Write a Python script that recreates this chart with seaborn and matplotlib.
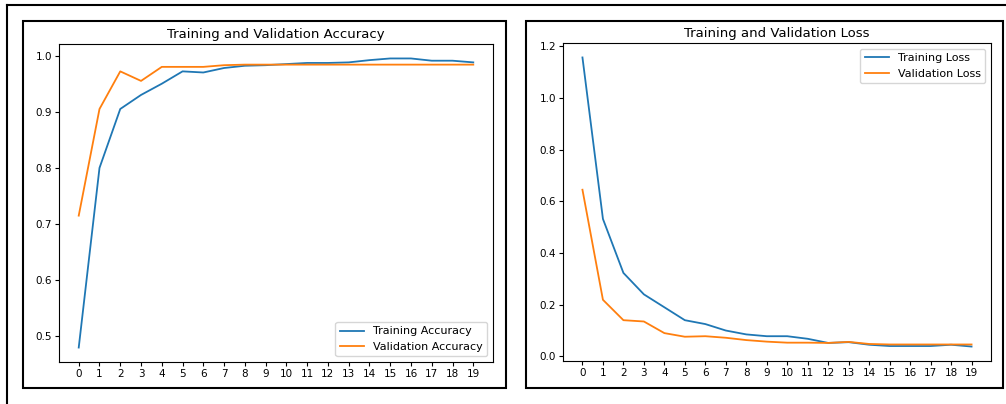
import matplotlib
matplotlib.use("Agg")
import matplotlib.pyplot as plt
import seaborn as sns
import pandas as pd
from matplotlib.patches import Rectangle
from matplotlib.lines import Line2D

# Valeurs
epochs = list(range(20))
train_acc = [0.48, 0.80, 0.905, 0.93, 0.95, 0.972, 0.970, 0.978, 0.982, 0.983,
             0.985, 0.987, 0.987, 0.988, 0.992, 0.995, 0.995, 0.991, 0.991, 0.988]
val_acc = [0.715, 0.905, 0.972, 0.955, 0.980, 0.980, 0.980, 0.983, 0.984, 0.984,
           0.984, 0.984, 0.984, 0.984, 0.984, 0.984, 0.984, 0.984, 0.984, 0.984]
train_loss = [1.157, 0.532, 0.323, 0.240, 0.190, 0.140, 0.125, 0.100, 0.085, 0.078,
              0.078, 0.068, 0.052, 0.055, 0.045, 0.040, 0.040, 0.040, 0.045, 0.038]
val_loss = [0.645, 0.219, 0.140, 0.135, 0.090, 0.076, 0.078, 0.072, 0.063, 0.057,
            0.053, 0.053, 0.052, 0.056, 0.048, 0.046, 0.046, 0.046, 0.046, 0.046]

acc_df = pd.DataFrame({"epoch": epochs * 2,
                       "value": train_acc + val_acc,
                       "serie": ["Training Accuracy"] * 20 + ["Validation Accuracy"] * 20})
loss_df = pd.DataFrame({"epoch": epochs * 2,
                        "value": train_loss + val_loss,
                        "serie": ["Training Loss"] * 20 + ["Validation Loss"] * 20})

palette = ["#1f77b4", "#ff7f0e"]

fig = plt.figure(figsize=(10.06, 4.04), dpi=100)
ax1 = fig.add_axes([59 / 1006, 42 / 404, 434 / 1006, 318 / 404])
ax2 = fig.add_axes([563 / 1006, 43 / 404, 428 / 1006, 318 / 404])

def draw(ax, df, title, loc):
    sns.lineplot(data=df, x="epoch", y="value", hue="serie", palette=palette,
                 linewidth=1.3, ax=ax)
    ax.set_title(title, fontsize=9.5, pad=4)
    ax.set_xlabel("")
    ax.set_ylabel("")
    ax.set_xticks(epochs)
    ax.tick_params(labelsize=7.5, length=3, pad=2)
    ax.legend(title=None, loc=loc, fontsize=8, handlelength=2.2)

draw(ax1, acc_df, "Training and Validation Accuracy", "lower right")
draw(ax2, loss_df, "Training and Validation Loss", "upper right")

# Cadres autour des graphiques
for x0, x1 in [(23, 506), (526, 1003)]:
    fig.add_artist(Rectangle((x0 / 1006, (404 - 388) / 404), (x1 - x0) / 1006, 367 / 404,
                             transform=fig.transFigure, fill=False, lw=1.5, ec="black"))
fig.add_artist(Line2D([7 / 1006, 1.0], [1 - 5 / 404, 1 - 5 / 404],
                      transform=fig.transFigure, lw=1.5, color="black"))
fig.add_artist(Line2D([7 / 1006, 7 / 1006], [0, 1 - 5 / 404],
                      transform=fig.transFigure, lw=1.5, color="black"))

fig.savefig("out.png", dpi=100)
